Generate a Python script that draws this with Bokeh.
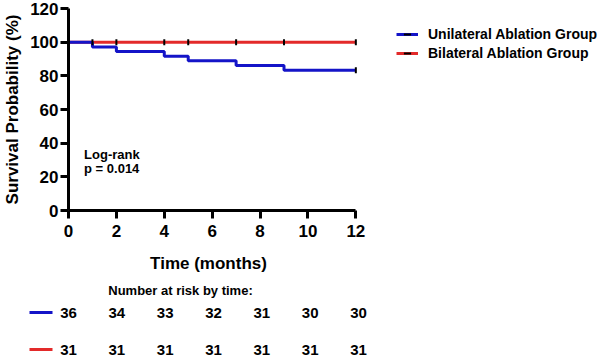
import math
from bokeh.plotting import figure
from bokeh.models import Range1d, Legend, LegendItem, FixedTicker
from bokeh.core.properties import value
from bokeh.embed import file_html
from bokeh.resources import INLINE

# ---- data ----
uni_time = [0, 1, 2, 4, 5, 7, 9, 12]
uni_surv = [100, 97.2, 94.4, 91.7, 88.9, 86.1, 83.3, 83.3]
bi_time = [0, 12]
bi_surv = [100, 100]
uni_censor_time = [12]
uni_censor_surv = [83.3]
bi_censor_time = [1, 2, 4, 5, 7, 9, 12]
bi_censor_surv = [100, 100, 100, 100, 100, 100, 100]
risk_times = [0, 2, 4, 6, 8, 10, 12]
risk_uni = ["36", "34", "33", "32", "31", "30", "30"]
risk_bi = ["31", "31", "31", "31", "31", "31", "31"]
x_ticks = [0, 2, 4, 6, 8, 10, 12]
y_ticks = [0, 20, 40, 60, 80, 100, 120]
series_names = ["Unilateral Ablation Group", "Bilateral Ablation Group"]
logrank_lines = ["Log-rank", "p = 0.014"]
x_title = "Time (months)"
risk_title = "Number at risk by time:"

FONT = "Liberation Sans"
BLUE = "#1414c8"
RED = "#e32a2a"

W = 608
FRAME_L = 63
AXIS_W = 290          # pixel length of the 0..12 month axis
FRAME_TOP = 8
FRAME_H = 202
TOP_H = 245
BOT_H = 359 - TOP_H
PX = AXIS_W / 12.0
X_MAX = 12.0
X_END = (W - FRAME_L) / PX   # frame extends to the right edge (legend lives there)

p = figure(width=W, height=TOP_H, output_backend="svg", toolbar_location=None,
           x_range=Range1d(0, X_END), y_range=Range1d(0, 120),
           min_border_left=FRAME_L, min_border_right=0,
           min_border_top=FRAME_TOP, min_border_bottom=TOP_H - FRAME_TOP - FRAME_H)
p.outline_line_color = None
p.xgrid.visible = False
p.ygrid.visible = False

p.xaxis.ticker = FixedTicker(ticks=x_ticks)
p.yaxis.ticker = FixedTicker(ticks=y_ticks)
p.xaxis.bounds = (0, X_MAX)
for ax in (p.xaxis, p.yaxis):
    ax.axis_line_width = 3
    ax.major_tick_line_width = 3
    ax.major_tick_out = 8
    ax.major_tick_in = 0
    ax.minor_tick_line_color = None
    ax.major_label_text_font = FONT
    ax.major_label_text_font_style = "bold"
    ax.major_label_text_font_size = "17px"
    ax.major_label_text_color = "black"
    ax.axis_label_text_font = FONT
    ax.axis_label_text_font_style = "bold"
    ax.axis_label_text_font_size = "17px"
    ax.axis_label_text_color = "black"
p.yaxis.axis_label = "Survival Probability (%)"
p.xaxis.major_label_standoff = 6
p.yaxis.major_label_standoff = 2
p.yaxis.axis_label_standoff = 5

bi_line = p.line(bi_time, bi_surv, line_color=RED, line_width=3)
uni_line = p.step(uni_time, uni_surv, mode="after", line_color=BLUE, line_width=3)
bi_cens = p.scatter(bi_censor_time, bi_censor_surv, marker="dash", angle=math.pi / 2,
                    size=6, line_color="black", line_width=2)
uni_cens = p.scatter(uni_censor_time, uni_censor_surv, marker="dash", angle=math.pi / 2,
                     size=6, line_color="black", line_width=2)

p.text(x=[0.65, 0.65], y=[33.3, 25.0], text=logrank_lines,
       text_font=value(FONT), text_font_style="bold", text_font_size="13px",
       text_baseline="middle", text_align="left", text_color="black")

LEG_TOP = 25
LEG_H = 18 * 2 + 1
legend = Legend(items=[
    LegendItem(label=series_names[0], renderers=[uni_line, uni_cens]),
    LegendItem(label=series_names[1], renderers=[bi_line, bi_cens]),
], location=(391 - FRAME_L, FRAME_H - (LEG_TOP - FRAME_TOP) - LEG_H))
legend.label_text_font = FONT
legend.label_text_font_style = "bold"
legend.label_text_font_size = "14px"
legend.label_text_color = "black"
legend.glyph_width = 22
legend.glyph_height = 18
legend.label_height = 18
legend.label_standoff = 10
legend.spacing = 1
legend.padding = 0
legend.margin = 0
legend.border_line_color = None
legend.background_fill_alpha = 0
p.add_layout(legend, "center")

# ---- x title + risk table (full-width figure sharing the same x mapping) ----
q = figure(width=W, height=BOT_H, output_backend="svg", toolbar_location=None,
           x_range=Range1d(-FRAME_L / PX, (W - FRAME_L) / PX), y_range=Range1d(BOT_H, 0),
           min_border=0, x_axis_location=None, y_axis_location=None)
q.outline_line_color = None
q.xgrid.visible = False
q.ygrid.visible = False

q.text(x=[X_MAX / 2], y=[263 - TOP_H], text=[x_title],
       text_font=value(FONT), text_font_style="bold", text_font_size="17px",
       text_baseline="middle", text_align="center", text_color="black")
q.text(x=[(180 - FRAME_L) / PX], y=[290 - TOP_H], text=[risk_title],
       text_font=value(FONT), text_font_style="bold", text_font_size="13px",
       text_baseline="middle", text_align="center", text_color="black")
row_y_uni = 312 - TOP_H
row_y_bi = 349 - TOP_H
q.text(x=risk_times, y=[row_y_uni] * len(risk_times), text=risk_uni, x_offset=5,
       text_font=value(FONT), text_font_style="bold", text_font_size="15px",
       text_baseline="middle", text_align="center", text_color="black")
q.text(x=risk_times, y=[row_y_bi] * len(risk_times), text=risk_bi, x_offset=5,
       text_font=value(FONT), text_font_style="bold", text_font_size="15px",
       text_baseline="middle", text_align="center", text_color="black")
q.segment(x0=[(29 - FRAME_L) / PX] * 2, y0=[row_y_uni, row_y_bi],
          x1=[(52 - FRAME_L) / PX] * 2, y1=[row_y_uni, row_y_bi],
          line_color=[BLUE, RED], line_width=3)

open("out.html", "w").write(file_html([p, q], INLINE))
